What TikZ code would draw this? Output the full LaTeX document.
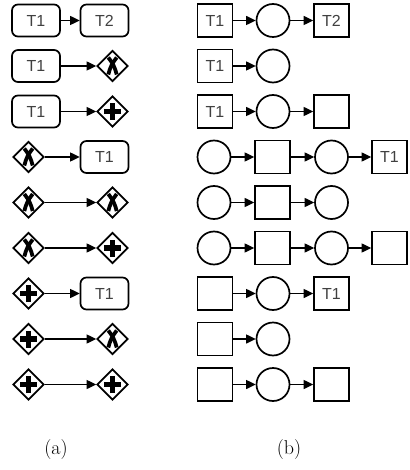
\documentclass[tikz,border=0pt]{standalone}
\usepackage{fontspec}
\newfontfamily\arialf{Liberation Sans}
\usetikzlibrary{shapes.geometric,arrows.meta}
\tikzset{
  lw/.style={line width=1.7pt},
  task/.style={lw, draw, rounded corners=6pt, minimum width=48pt, minimum height=32pt, inner sep=0pt, font=\arialf\fontsize{16}{16}\selectfont, text=black!75},
  gw/.style={lw, draw, diamond, aspect=1, minimum width=31pt, minimum height=31pt, inner sep=0pt},
  xgw/.style={gw, path picture={
      \draw[line width=3.8pt] ([shift={(-4.2pt,-8.5pt)}]path picture bounding box.center) to[bend left=12] ([shift={(4.2pt,8.5pt)}]path picture bounding box.center);
      \draw[line width=3.8pt] ([shift={(4.2pt,-8.5pt)}]path picture bounding box.center) to[bend right=12] ([shift={(-4.2pt,8.5pt)}]path picture bounding box.center);}},
  pgw/.style={gw, path picture={
      \draw[line width=5.5pt] ([shift={(-8.5pt,0pt)}]path picture bounding box.center) -- ([shift={(8.5pt,0pt)}]path picture bounding box.center);
      \draw[line width=5.5pt] ([shift={(0pt,-8.5pt)}]path picture bounding box.center) -- ([shift={(0pt,8.5pt)}]path picture bounding box.center);}},
  sq/.style={lw, draw, minimum width=35pt, minimum height=33pt, inner sep=0pt, font=\arialf\fontsize{16}{16}\selectfont, text=black!75},
  pl/.style={lw, draw, circle, minimum size=33pt, inner sep=0pt},
  flow/.style={line width=1.2pt, -{Triangle[length=9.5pt,width=9pt]}},
  caption/.style={font=\fontsize{20}{20}\selectfont}
}
\begin{document}
\begin{tikzpicture}[x=1pt,y=-1pt]
\useasboundingbox (0,0) rectangle (409,470);
% (a) column
\node[task] (a1l) at (36,20.5) {T1};
\node[task] (a1r) at (104.5,20.5) {T2};
\node[task] (a2l) at (36,66) {T1};
\node[xgw] (a2r) at (112.5,66) {};
\node[task] (a3l) at (36,111.5) {T1};
\node[pgw] (a3r) at (112.5,111.5) {};
\node[xgw] (a4l) at (28.5,157) {};
\node[task] (a4r) at (104.5,157) {T1};
\node[xgw] (a5l) at (28.5,202.5) {};
\node[xgw] (a5r) at (112.5,202.5) {};
\node[xgw] (a6l) at (28.5,248) {};
\node[pgw] (a6r) at (112.5,248) {};
\node[pgw] (a7l) at (28.5,293.5) {};
\node[task] (a7r) at (104.5,293.5) {T1};
\node[pgw] (a8l) at (28.5,339) {};
\node[xgw] (a8r) at (112.5,339) {};
\node[pgw] (a9l) at (28.5,384.5) {};
\node[pgw] (a9r) at (112.5,384.5) {};
\foreach \i in {1,...,9} { \draw[flow] (a\i l) -- (a\i r); }
% (b) column
\node[sq] (b11) at (215,20.5) {T1};
\node[pl] (b12) at (273,20.5) {};
\node[sq] (b13) at (331.5,20.5) {T2};
\draw[flow] (b11) -- (b12); \draw[flow] (b12) -- (b13);
\node[sq] (b21) at (215,66) {T1};
\node[pl] (b22) at (273,66) {};
\draw[flow] (b21) -- (b22);
\node[sq] (b31) at (215,111.5) {T1};
\node[pl] (b32) at (273,111.5) {};
\node[sq] (b33) at (331.5,111.5) {};
\draw[flow] (b31) -- (b32); \draw[flow] (b32) -- (b33);
\node[pl] (b41) at (214,157) {};
\node[sq] (b42) at (272.5,157) {};
\node[pl] (b43) at (331.5,157) {};
\node[sq] (b44) at (389.5,157) {T1};
\draw[flow] (b41) -- (b42); \draw[flow] (b42) -- (b43); \draw[flow] (b43) -- (b44);
\node[pl] (b51) at (214,202.5) {};
\node[sq] (b52) at (272.5,202.5) {};
\node[pl] (b53) at (331.5,202.5) {};
\draw[flow] (b51) -- (b52); \draw[flow] (b52) -- (b53);
\node[pl] (b61) at (214,248) {};
\node[sq] (b62) at (272.5,248) {};
\node[pl] (b63) at (331.5,248) {};
\node[sq] (b64) at (389.5,248) {};
\draw[flow] (b61) -- (b62); \draw[flow] (b62) -- (b63); \draw[flow] (b63) -- (b64);
\node[sq] (b71) at (215,293.5) {};
\node[pl] (b72) at (273,293.5) {};
\node[sq] (b73) at (331.5,293.5) {T1};
\draw[flow] (b71) -- (b72); \draw[flow] (b72) -- (b73);
\node[sq] (b81) at (215,339) {};
\node[pl] (b82) at (273,339) {};
\draw[flow] (b81) -- (b82);
\node[sq] (b91) at (215,384.5) {};
\node[pl] (b92) at (273,384.5) {};
\node[sq] (b93) at (331.5,384.5) {};
\draw[flow] (b91) -- (b92); \draw[flow] (b92) -- (b93);
% captions
\node[caption] (ca) at (56,450) {(a)};
\node[caption] (cb) at (289,450) {(b)};
\end{tikzpicture}
\end{document}
